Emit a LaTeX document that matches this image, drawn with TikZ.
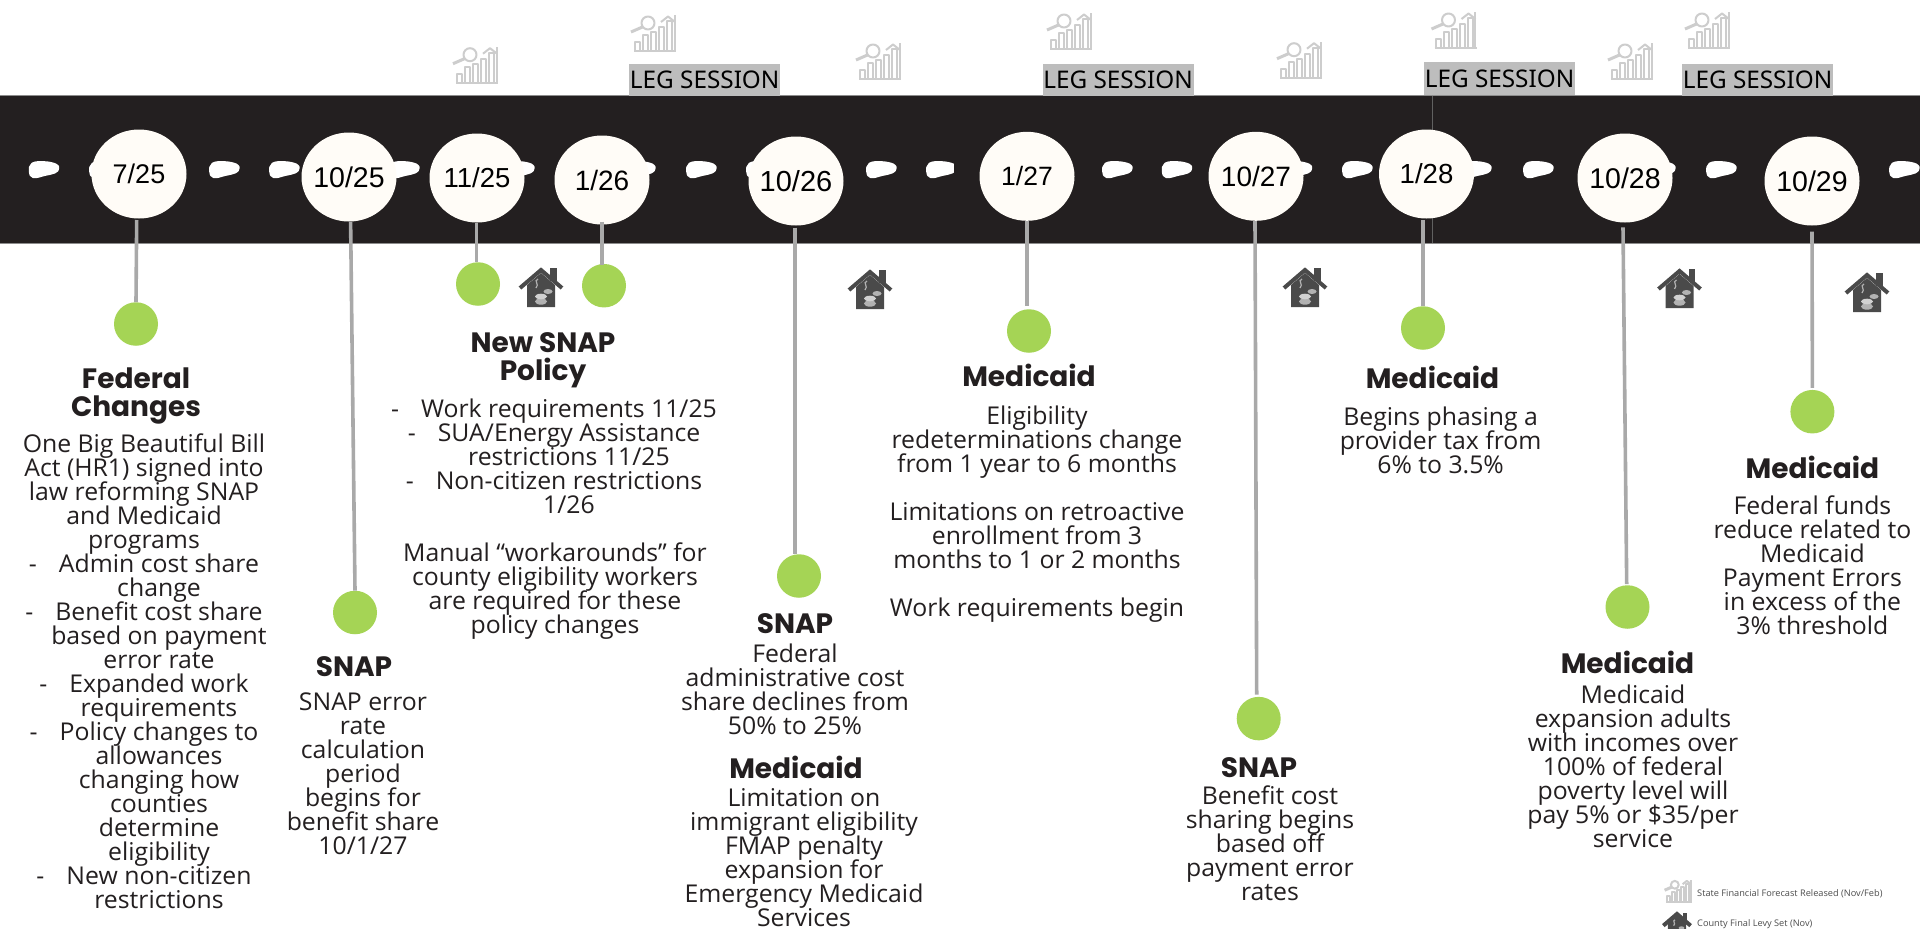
\documentclass[tikz,border=0pt]{standalone}
\usepackage{fontspec}
\usetikzlibrary{shapes.geometric}
\setmainfont{Liberation Sans}
\newfontfamily\bodyfam[FakeStretch=1.012]{Open Sans}
\newfontfamily\legfam{Noto Sans}
\newfontfamily\headfam{Poppins}
\definecolor{ink}{HTML}{231F20}
\definecolor{cream}{HTML}{FFFCF7}
\definecolor{leaf}{HTML}{A5D455}
\definecolor{stemc}{HTML}{A9A9A9}
\definecolor{legbg}{HTML}{BDBDBD}
\definecolor{fc}{HTML}{CDCDCD}
\definecolor{hs}{HTML}{4A4A4A}
\def\bodyf{\fontsize{24.5}{24}\bodyfam\lineskiplimit=-30pt\selectfont}
\def\headf{\fontsize{28}{28.5}\headfam\bfseries\lineskiplimit=-30pt\selectfont}
\def\czero#1{\hbox to 0pt{\hss#1\hss}}
\def\dsh{\leavevmode\llap{-\hspace{22pt}}}
\def\dt#1#2{\czero{\fontsize{#1}{#1}\selectfont #2}}
\def\fb{\rule{0pt}{22pt}}
\def\fh{\rule{0pt}{30pt}}
\tikzset{
  x=1pt,y=-1pt,
  datec/.style={shape=ellipse,fill=cream,inner sep=0pt,minimum width=95pt,minimum height=89pt,text=black},
  dotn/.style={shape=ellipse,fill=leaf,inner sep=0pt,minimum width=44pt,minimum height=43.5pt},
  stem/.style={draw=stemc,line width=3.6pt},
  bodyt/.style={anchor=north,inner sep=0pt,align=center,text=ink,font=\bodyf,yshift=22pt},
  headt/.style={anchor=north,inner sep=0pt,align=center,text=ink,font=\headf,yshift=30pt},
  legn/.style={fill=legbg,inner sep=0pt,minimum width=151pt,minimum height=32.5pt,text=black,font=\fontsize{24.3}{24}\legfam\selectfont},
  keyt/.style={anchor=west,inner sep=0pt,text=black!70,font=\fontsize{9.1}{10}\bodyfam\selectfont},
  forecast/.pic={
    \begin{scope}[draw=fc,line width=2pt,line join=round]
      \draw (18,8) circle[radius=6.5];
      \draw[line width=3pt] (12.5,12) -- (1,17);
      \draw (5,36) rectangle (10,27);
      \draw (13,36) rectangle (18,20);
      \draw (21,36) rectangle (26,17);
      \draw (29,36) rectangle (34,12);
      \draw (37,36) rectangle (42,6);
      \draw (44.5,36) -- (44.5,0);
      \draw (31,7) -- (38,1.5) -- (45,7);
      \draw (4,36) -- (46,36);
    \end{scope}
  },
  levy/.pic={
    \fill[hs] (9,18) -- (23,6) -- (37,18) -- (37,40) -- (9,40) -- cycle;
    \draw[hs,line width=4pt] (2,21) -- (23,3) -- (44,21);
    \fill[hs] (32,1) rectangle (38.5,14);
    \fill[black!30] (23,34.5) ellipse[x radius=6,y radius=3.2];
    \fill[black!18] (23,29.5) ellipse[x radius=6,y radius=2.8];
    \fill[black!30] (30,24.5) ellipse[x radius=4.5,y radius=2.5];
    \draw[black!30,line width=1.2pt] (20,12) .. controls (15,14) and (22,17) .. (18,21);
  },
  blobp/.pic={
    \filldraw[fill=white,draw=white,line width=3pt,line join=round] plot[smooth cycle,tension=.7] coordinates {(4,3) (16,1.7) (27,4) (29,7.5) (26,11) (16,13.5) (5,15.7) (1.7,10.5)};
  }
}
\begin{document}
\begin{tikzpicture}
\useasboundingbox (0,0) rectangle (1920,929);
\clip (0,0) rectangle (1920,929);
\fill[white] (0,0) rectangle (1920,929);
% band
\filldraw[fill=ink,draw=black!45,line width=.8pt] (-2,95.5) rectangle (1922,243);
\draw[black!62,line width=.6pt] (1432.6,95.5) -- (1432.6,243);
% dashes
\foreach \bx in {28.6,89,209,269,389,504,625,686,746,866,926,1102,1161.6,1281.6,1342,1461,1523,1645,1706,1827,1889}
  \pic at (\bx,161) {blobp};
\fill[ink] (953.6,155) rectangle (962,185);
% date circles
\node[datec] (c1) at (139,174) {\dt{27}{7/25}};
\node[datec] (c2) at (349,177) {\dt{28.5}{10/25}};
\node[datec] (c3) at (477,178) {\dt{27.5}{11/25}};
\node[datec] (c4) at (602,180) {\dt{28}{1/26}};
\node[datec] (c5) at (796,181) {\dt{29}{10/26}};
\node[datec] (c6) at (1027,176.3) {\dt{26.5}{1/27}};
\node[datec] (c7) at (1256,176.3) {\dt{28}{10/27}};
\node[datec] (c8) at (1426.5,174) {\dt{27.6}{1/28}};
\node[datec] (c9) at (1625,178) {\dt{28.5}{10/28}};
\node[datec] (c10) at (1812,181) {\dt{28.5}{10/29}};
% green dots
\node[dotn] (d1) at (136,324) {};
\node[dotn] (d2) at (355,612.5) {};
\node[dotn] (d3) at (478,284) {};
\node[dotn] (d4) at (604,285.7) {};
\node[dotn] (d5) at (799,576) {};
\node[dotn] (d6) at (1029,331) {};
\node[dotn] (d7) at (1258.7,718.6) {};
\node[dotn] (d8) at (1423,328) {};
\node[dotn] (d9) at (1627.5,607) {};
\node[dotn] (d10) at (1812.4,411.7) {};
% stems
\draw[stem] ([shift={(-2.3,1.3)}]c1.south) -- (d1.north);
\draw[stem] ([shift={(1.6,0)}]c2.south) -- (d2.north);
\draw[stem] ([shift={(-.7,0)}]c3.south) -- ([shift={(-1.7,0)}]d3.north);
\draw[stem] ([shift={(0,-3)}]c4.south) -- ([shift={(-2,1)}]d4.north);
\draw[stem] ([shift={(-1,2)}]c5.south) -- ([shift={(-4,0)}]d5.north);
\draw[stem] (c6.south) -- ([shift={(-2,-3)}]d6.north);
\draw[stem] ([shift={(-1,0)}]c7.south) -- ([shift={(-2,-2)}]d7.north);
\draw[stem] ([shift={(-3.5,1.7)}]c8.south) -- (d8.north);
\draw[stem] ([shift={(-2,4.7)}]c9.south) -- ([shift={(-.8,-1)}]d9.north);
\draw[stem] ([shift={(0,6)}]c10.south) -- ([shift={(0,-2)}]d10.north);
% leg session
\node[legn] (l1) at (704.7,80) {\raisebox{-2pt}{LEG SESSION}};
\node[legn] (l2) at (1118,80) {\raisebox{-2pt}{LEG SESSION}};
\node[legn] (l3) at (1499.5,78.5) {\raisebox{-2pt}{LEG SESSION}};
\node[legn] (l4) at (1757.5,80) {\raisebox{-2pt}{LEG SESSION}};
% forecast icons
\foreach \ix/\iy in {452/46.7,630/15,855/43,1046/13,1276/41.7,1430.5/12,1607/43,1684/12}
  \pic at (\ix,\iy) {forecast};
% levy icons
\foreach \ix/\iy in {518/267,847/269,1282/267,1656.5/268,1844/272}
  \pic at (\ix,\iy) {levy};
% column texts
\node[headt] (h1) at (136,388) {\fh Federal\\Changes};
\node[bodyt] (b1) at (144,452) {\fb One Big Beautiful Bill\\Act (HR1) signed into\\law reforming SNAP\\and Medicaid\\programs};
\node[bodyt] (b1l) at (159,572) {\fb\dsh Admin cost share\\change\\\dsh Benefit cost share\\based on payment\\error rate\\\dsh Expanded work\\requirements\\\dsh Policy changes to\\allowances\\changing how\\counties\\determine\\eligibility\\\dsh New non-citizen\\restrictions};
\node[headt] (h2) at (354,676.5) {\fh SNAP};
\node[bodyt] (b2) at (363,710) {\fb SNAP error\\rate\\calculation\\period\\begins for\\benefit share\\10/1/27};
\node[headt] (h3) at (543,352) {\fh New SNAP\\Policy};
\node[bodyt] (b3l) at (569,417.5) {\fb\dsh Work requirements 11/25\\\dsh SUA/Energy Assistance\\restrictions 11/25\\\dsh Non-citizen restrictions\\1/26};
\node[bodyt] (b3) at (555,561.5) {\fb Manual “workarounds” for\\county eligibility workers\\are required for these\\policy changes};
\node[headt] (h4) at (795,633) {\fh SNAP};
\node[bodyt] (b4) at (795,662) {\fb Federal\\administrative cost\\share declines from\\50\% to 25\%};
\node[headt] (h5) at (796,778) {\fh Medicaid};
\node[bodyt] (b5) at (804,806) {\fb Limitation on\\immigrant eligibility\\FMAP penalty\\expansion for\\Emergency Medicaid\\Services};
\node[headt] (h6) at (1029,386) {\fh Medicaid};
\node[bodyt] (b6) at (1037,424.6) {\fb Eligibility\\redeterminations change\\from 1 year to 6 months\\[24pt]Limitations on retroactive\\enrollment from 3\\months to 1 or 2 months\\[24pt]Work requirements begin};
\node[headt] (h7) at (1259,777) {\fh SNAP};
\node[bodyt] (b7) at (1270,804.7) {\fb Benefit cost\\sharing begins\\based off\\payment error\\rates};
\node[headt] (h8) at (1432.5,388) {\fh Medicaid};
\node[bodyt] (b8) at (1440.6,425) {\fb Begins phasing a\\provider tax from\\6\% to 3.5\%};
\node[headt] (h9) at (1627.5,673.4) {\fh Medicaid};
\node[bodyt] (b9) at (1633,702.8) {\fb Medicaid\\expansion adults\\with incomes over\\100\% of federal\\poverty level will\\pay 5\% or \$35/per\\service};
\node[headt] (h10) at (1812.4,478.6) {\fh Medicaid};
\node[bodyt] (b10) at (1812.4,514) {\fb Federal funds\\reduce related to\\Medicaid\\Payment Errors\\in excess of the\\3\% threshold};
% legend
\pic[scale=.6] at (1664,880) {forecast};
\node[keyt] (k1) at (1697,894) {State Financial Forecast Released (Nov/Feb)};
\pic[scale=.65] at (1662,912) {levy};
\node[keyt] (k2) at (1697,924) {County Final Levy Set (Nov)};
\end{tikzpicture}
\end{document}
